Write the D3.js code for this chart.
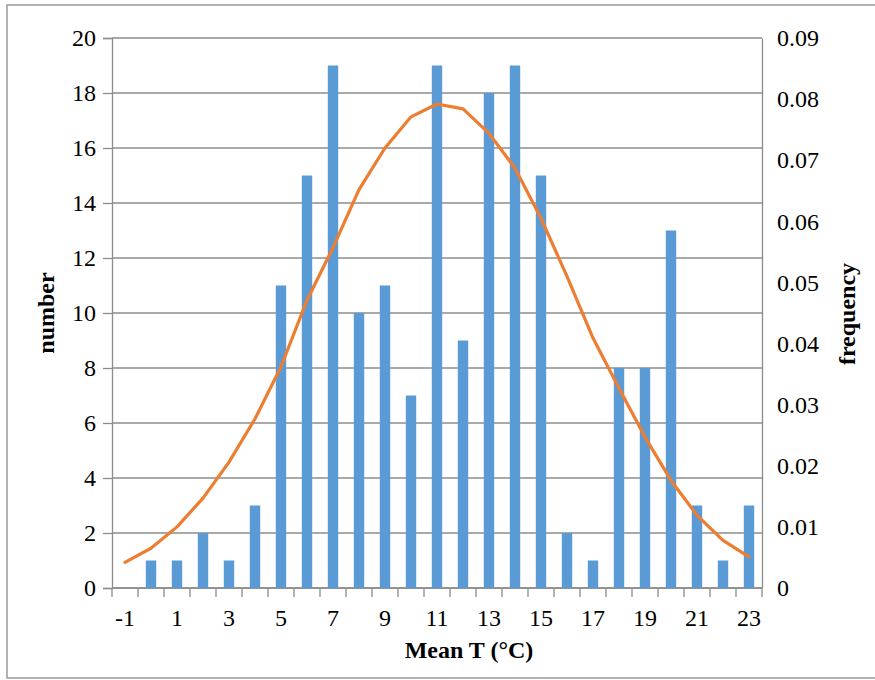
<!DOCTYPE html>
<html>
<head>
<meta charset="utf-8">
<script src="https://cdn.jsdelivr.net/npm/d3@7"></script>
<style>
  html, body { margin: 0; padding: 0; background: #fff; }
  svg { display: block; }
</style>
</head>
<body>
<script>
// Mean temperature classes (°C)
const temps = [-1, 0, 1, 2, 3, 4, 5, 6, 7, 8, 9, 10, 11, 12, 13, 14, 15, 16, 17, 18, 19, 20, 21, 22, 23];
// Number of observations per class
const counts = [0, 1, 1, 2, 1, 3, 11, 15, 19, 10, 11, 7, 19, 9, 18, 19, 15, 2, 1, 8, 8, 13, 3, 1, 3];
// Fitted normal frequency per class
const freqs = [0.0042, 0.0065, 0.0100, 0.0147, 0.0206, 0.0277, 0.0362, 0.0471, 0.0557, 0.0652,
               0.0720, 0.0771, 0.0792, 0.0784, 0.0744, 0.0687, 0.0605, 0.0510, 0.0409, 0.0327,
               0.0247, 0.0176, 0.0119, 0.0078, 0.0051];
const countTicks = [0, 2, 4, 6, 8, 10, 12, 14, 16, 18, 20];
const freqTicks = [0, 0.01, 0.02, 0.03, 0.04, 0.05, 0.06, 0.07, 0.08, 0.09];
const labelTemps = [-1, 1, 3, 5, 7, 9, 11, 13, 15, 17, 19, 21, 23];

const W = 875, H = 680;
const m = { left: 112, right: 113, top: 38, bottom: 92 };
const font = "'Liberation Serif', 'Times New Roman', serif";
const gridColor = "#8c8c8c";
const fs = 24;

const svg = d3.select("body").append("svg").attr("width", W).attr("height", H);

// outer frame (right edge runs past the page)
svg.append("rect").attr("x", 7).attr("y", 5).attr("width", 875).attr("height", 673)
  .attr("fill", "none").attr("stroke", "#9a9a9a").attr("stroke-width", 1.5);

const xb = d3.scaleBand().domain(temps).range([m.left, W - m.right]);
const y = d3.scaleLinear().domain([0, 20]).range([H - m.bottom, m.top]);
const y2 = d3.scaleLinear().domain([0, 0.09]).range([H - m.bottom, m.top]);
const barW = xb.bandwidth() / 2.5;

// horizontal gridlines
svg.append("g").selectAll("line").data(countTicks).join("line")
  .attr("x1", m.left).attr("x2", W - m.right)
  .attr("y1", d => y(d)).attr("y2", d => y(d))
  .attr("stroke", gridColor).attr("stroke-width", 1.3);

// left axis
const yAxis = svg.append("g").attr("transform", `translate(${m.left},0)`)
  .call(d3.axisLeft(y).tickValues(countTicks).tickSize(9).tickPadding(7));
// right axis
const y2Axis = svg.append("g").attr("transform", `translate(${W - m.right},0)`)
  .call(d3.axisRight(y2).tickValues(freqTicks).tickSize(0).tickPadding(15)
    .tickFormat(d => d === 0 ? "0" : d3.format(".2f")(d)));
// bottom axis: ticks at class boundaries
const xAxisG = svg.append("g").attr("transform", `translate(0,${H - m.bottom})`);
xAxisG.append("line").attr("x1", m.left).attr("x2", W - m.right).attr("y1", 0).attr("y2", 0)
  .attr("stroke", gridColor).attr("stroke-width", 1.3);
const bounds = temps.map(t => xb(t)).concat([W - m.right]);
xAxisG.selectAll("line.tk").data(bounds).join("line").attr("class", "tk")
  .attr("x1", d => d).attr("x2", d => d).attr("y1", 0).attr("y2", 9)
  .attr("stroke", gridColor).attr("stroke-width", 1.3);
xAxisG.selectAll("text").data(labelTemps).join("text")
  .attr("x", d => xb(d) + xb.bandwidth() / 2).attr("y", 38)
  .attr("text-anchor", "middle").attr("font-family", font).attr("font-size", fs)
  .attr("fill", "#000").text(d => d);

[yAxis, y2Axis].forEach(g => {
  g.select(".domain").attr("stroke", gridColor).attr("stroke-width", 1.3);
  g.selectAll(".tick line").attr("stroke", gridColor).attr("stroke-width", 1.3);
  g.selectAll("text").attr("font-family", font).attr("font-size", fs).attr("fill", "#000");
});

// count bars
svg.append("g").selectAll("rect").data(temps).join("rect")
  .attr("x", d => xb(d) + (xb.bandwidth() - barW) / 2)
  .attr("width", barW)
  .attr("y", (d, i) => y(counts[i]))
  .attr("height", (d, i) => y(0) - y(counts[i]))
  .attr("fill", "#5b9bd5");

// fitted frequency curve
const line = d3.line()
  .x((d, i) => xb(temps[i]) + xb.bandwidth() / 2)
  .y(d => y2(d));
svg.append("path").datum(freqs).attr("d", line)
  .attr("fill", "none").attr("stroke", "#ed7d31").attr("stroke-width", 3.2)
  .attr("stroke-linejoin", "round").attr("stroke-linecap", "round");

// axis titles
svg.append("text").attr("transform", `translate(54,313) rotate(-90)`)
  .attr("text-anchor", "middle").attr("font-family", font).attr("font-weight", "bold")
  .attr("font-size", fs).text("number");
svg.append("text").attr("transform", `translate(855,314) rotate(-90)`)
  .attr("text-anchor", "middle").attr("font-family", font).attr("font-weight", "bold")
  .attr("font-size", fs).text("frequency");
svg.append("text").attr("x", 469).attr("y", 658)
  .attr("text-anchor", "middle").attr("font-family", font).attr("font-weight", "bold")
  .attr("font-size", fs).text("Mean T (°C)");
</script>
</body>
</html>
